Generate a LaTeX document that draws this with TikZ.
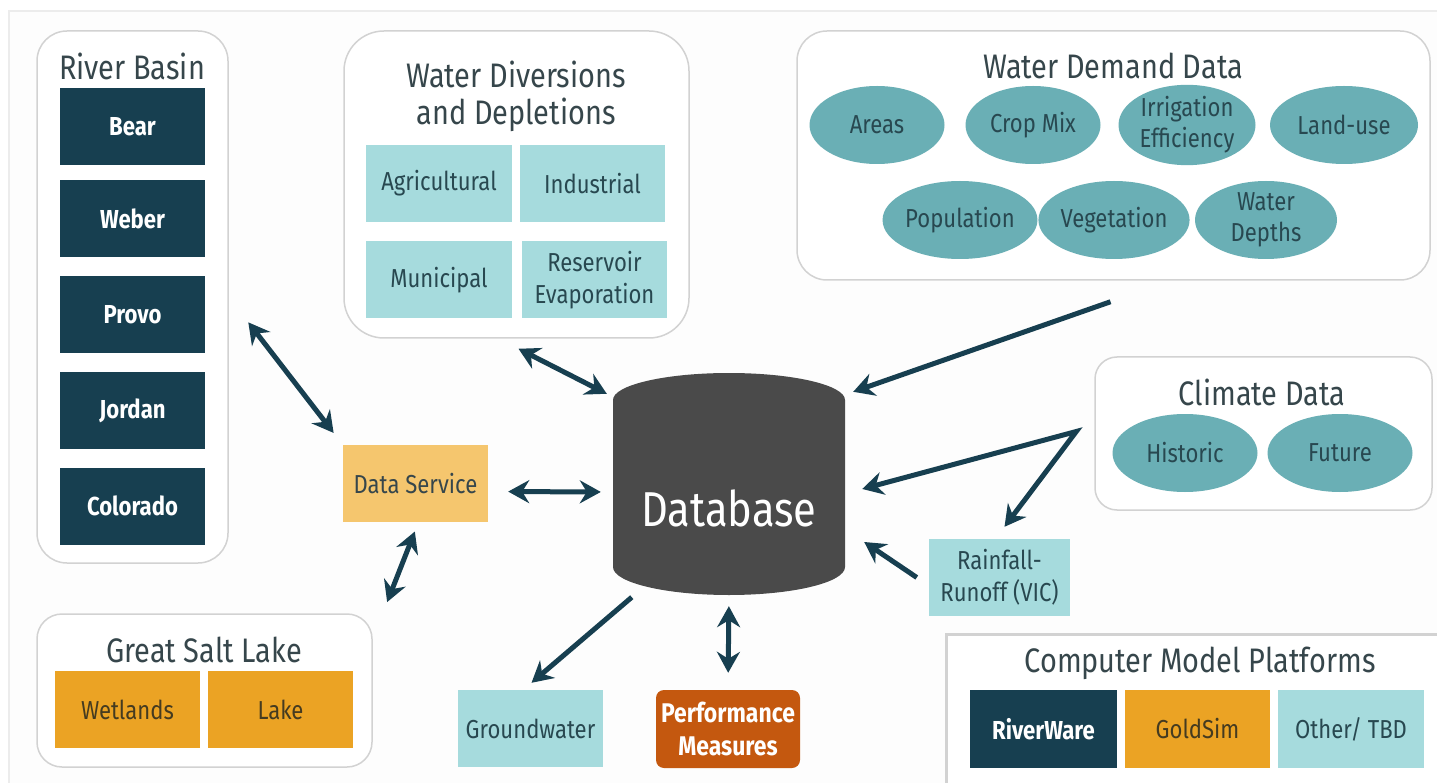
\documentclass[tikz,border=0pt]{standalone}
\usepackage{fontspec}
\setmainfont{Fira Sans}[FakeStretch=0.85]
\usetikzlibrary{shapes.geometric,arrows.meta}

\definecolor{navy}{HTML}{173F50}
\definecolor{lightteal}{HTML}{A6DBDD}
\definecolor{ovalteal}{HTML}{6AAFB5}
\definecolor{darkteal}{HTML}{284850}
\definecolor{gold}{HTML}{EBA324}
\definecolor{darkgold}{HTML}{453B20}
\definecolor{lightgold}{HTML}{F5C66E}
\definecolor{burnt}{HTML}{C4580F}
\definecolor{dbgray}{HTML}{4A4A4A}
\definecolor{titlegray}{HTML}{36464B}
\definecolor{grpline}{HTML}{D2D2D2}
\definecolor{frameline}{HTML}{ECECEC}
\definecolor{pagewhite}{HTML}{FDFDFD}

\tikzset{
  grp/.style={draw=grpline, line width=1.5pt, fill=white, inner sep=0pt},
  grptitle/.style={text=titlegray, align=center, font=\fontsize{34}{37}\selectfont},
  box/.style={minimum width=145pt, minimum height=77pt, inner sep=0pt, align=center, font=\fontsize{26}{32}\selectfont},
  navybox/.style={box, fill=navy, text=white, font=\fontsize{26}{31}\selectfont\bfseries},
  tealbox/.style={box, fill=lightteal, text=darkteal},
  goldbox/.style={box, fill=gold, text=darkgold},
  oval/.style={ellipse, fill=ovalteal, text=darkteal, minimum width=140pt, minimum height=78pt, inner sep=0pt, align=center, font=\fontsize{26}{31}\selectfont},
  link/.style={draw=navy, line width=5pt, -{Stealth[length=21pt,width=23pt,inset=7pt]}},
  twoway/.style={link, {Stealth[length=21pt,width=23pt,inset=7pt]}-{Stealth[length=21pt,width=23pt,inset=7pt]}}
}

\begin{document}
\begin{tikzpicture}[x=1pt,y=-1pt]
\useasboundingbox (0,0) rectangle (1437,783);
\clip (0,0) rectangle (1437,783);
\fill[white] (0,0) rectangle (1437,783);
\draw[frameline, fill=pagewhite, line width=1.5pt] (9,11) rectangle (1460,800);

% river basin
\node[grp, rounded corners=30pt, minimum width=191pt, minimum height=532pt] (rb) at (132.5,297) {};
\node[grptitle] (rbtitle) at (132,66) {River Basin};
\node[navybox] (bear) at (132.5,126.5) {Bear};
\node[navybox] (weber) at (132.5,219) {Weber};
\node[navybox] (provo) at (132.5,314.5) {Provo};
\node[navybox] (jordan) at (132.5,410.5) {Jordan};
\node[navybox] (colorado) at (132.5,506) {Colorado};

% diversions and depletions
\node[grp, rounded corners=40pt, minimum width=345pt, minimum height=307pt] (wd) at (516.5,184.5) {};
\node[grptitle] (wdtitle) at (516,96) {Water Diversions\\and Depletions};
\node[tealbox, minimum width=146pt] (agri) at (439,183.5) {Agricultural};
\node[tealbox] (indus) at (592.5,183.5) {Industrial};
\node[tealbox, minimum width=146pt] (muni) at (439,280) {Municipal};
\node[tealbox] (resv) at (594.5,280) {Reservoir\\Evaporation};

% demand data
\node[grp, rounded corners=30pt, minimum width=633pt, minimum height=249pt] (wdd) at (1113.5,155.5) {};
\node[grptitle] (wddtitle) at (1113,66) {Water Demand Data};
\node[oval, minimum width=135pt] (areas) at (877,125) {Areas};
\node[oval, minimum width=135pt] (crop) at (1033,125) {Crop Mix};
\node[oval, minimum width=137pt] (irrig) at (1187,125) {Irrigation\\Efficiency};
\node[oval, minimum width=148pt] (land) at (1344,125) {Land-use};
\node[oval, minimum width=144pt] (pop) at (960,220) {Population};
\node[oval, minimum width=147pt] (veg) at (1114,220) {Vegetation};
\node[oval, minimum width=142pt] (depth) at (1266,220) {Water\\Depths};

% climate
\node[grp, rounded corners=22pt, minimum width=337pt, minimum height=153pt] (cd) at (1263.5,433.5) {};
\node[grptitle] (cdtitle) at (1262,392) {Climate Data};
\node[oval, minimum width=145pt] (hist) at (1185,453) {Historic};
\node[oval, minimum width=145pt] (fut) at (1340,453) {Future};

% great salt lake
\node[grp, rounded corners=25pt, minimum width=335pt, minimum height=153pt] (gsl) at (204.5,690.5) {};
\node[grptitle] (gsltitle) at (204,650) {Great Salt Lake};
\node[goldbox] (wet) at (127.5,709.5) {Wetlands};
\node[goldbox] (lake) at (280.5,709.5) {Lake};

% model platforms
\node[draw=grpline, line width=3pt, fill=white, minimum width=520pt, minimum height=180pt] (cmp) at (1206,724) {};
\node[grptitle] (cmptitle) at (1200,663) {Computer Model Platforms};
\node[navybox, minimum width=147pt, minimum height=78pt] (rware) at (1043.5,729) {RiverWare};
\node[goldbox, minimum height=78pt] (gsim) at (1197.5,729) {GoldSim};
\node[tealbox, minimum width=146pt, minimum height=78pt] (other) at (1351,729) {Other/ TBD};

% loose boxes
\node[box, fill=lightgold, text=titlegray] (ds) at (415.5,483.5) {Data Service};
\node[tealbox] (gw) at (530.5,728.5) {Groundwater};
\node[box, fill=burnt, text=white, rounded corners=8pt, minimum width=144pt, minimum height=78pt, font=\fontsize{27}{33}\selectfont\bfseries] (pm) at (728,729) {Performance\\Measures};
\node[tealbox, minimum width=141pt] (rr) at (999.5,577.5) {Rainfall-\\Runoff (VIC)};

% database
\fill[dbgray] (613,400) -- (613,567) arc[start angle=180,end angle=360,x radius=116pt,y radius=28pt]
  -- (845,400) arc[start angle=0,end angle=180,x radius=116pt,y radius=27pt] -- cycle;
\node[minimum width=232pt, minimum height=224pt, inner sep=0pt] (db) at (729,484) {};
\node[text=white, font=\fontsize{49}{52}\selectfont] (dblabel) at (729,508) {Database};

% connectors
\draw[twoway, shorten <=32pt, shorten >=15pt] (rb.east) -- (ds.north west);
\draw[twoway] ([shift={(2,10)}]wd.south) -- ([shift={(-6,22)}]db.north west);
\draw[twoway, shorten <=20pt, shorten >=12pt] ([shift={(0,8)}]ds.east) -- ([shift={(0,8)}]db.west);
\draw[twoway, shorten <=10pt, shorten >=12pt] ([shift={(3,0)}]ds.south) -- ([shift={(10,0)}]gsl.north east);
\draw[link] ([shift={(-3,21)}]wdd.south) -- ([shift={(8,20)}]db.north east);
\coordinate (fork) at ([shift={(-18,-2)}]cd.west);
\draw[twoway, line join=miter] ([shift={(17,5)}]db.east) -- (fork) -- ([shift={(5,-12)}]rr.north);
\draw[link] ([shift={(-12,0)}]rr.west) -- ([shift={(19,58)}]db.east);
\draw[link] ([shift={(19,1)}]db.south west) -- ([shift={(1,-7)}]gw.north);
\draw[twoway, shorten <=10pt, shorten >=17pt] (db.south) -- (pm.north);
\end{tikzpicture}
\end{document}
